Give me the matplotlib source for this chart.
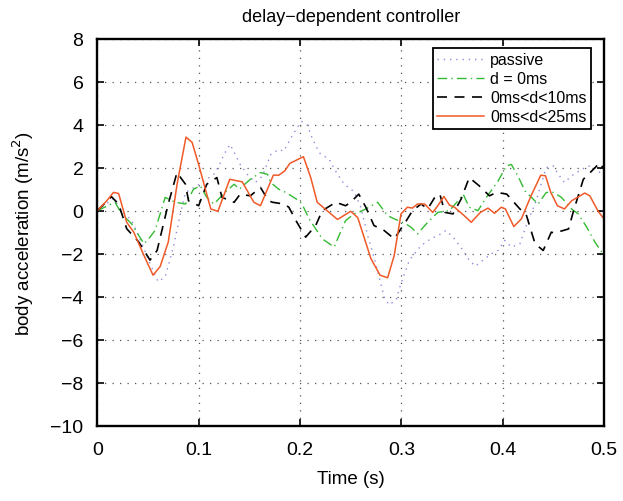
import numpy as np
import matplotlib
matplotlib.use("Agg")
import matplotlib.pyplot as plt

plt.rcParams['font.family'] = ['Liberation Sans', 'DejaVu Sans']

# passive (dotted)
t_pas = [0, 0.008, 0.016, 0.024, 0.034, 0.044, 0.052, 0.060, 0.067, 0.075, 0.082, 0.087,
         0.100, 0.115, 0.120, 0.125, 0.131, 0.136, 0.141, 0.148, 0.156, 0.163, 0.171, 0.179,
         0.184, 0.191, 0.197, 0.2017, 0.207, 0.212, 0.219, 0.229, 0.235, 0.2436, 0.2535, 0.260,
         0.2667, 0.273, 0.278, 0.283, 0.288, 0.2948, 0.2997, 0.308, 0.3195, 0.329, 0.339, 0.344,
         0.351, 0.361, 0.367, 0.373, 0.3806, 0.389, 0.3955, 0.402, 0.4086, 0.417, 0.425, 0.432,
         0.438, 0.443, 0.450, 0.455, 0.461, 0.468, 0.478, 0.4845, 0.491, 0.4977, 0.5]
a_pas = [0, 0.3, 0.55, 0.0, -0.46, -1.54, -2.46, -3.3, -3.08, -1.69, -0.15, 0.85,
         1.2, 1.69, 2.08, 2.62, 3.08, 2.62, 2.15, 1.69, 1.31, 1.62, 2.6, 2.85,
         2.77, 3.38, 3.85, 4.15, 4.0, 3.38, 2.69, 2.38, 1.85, 1.23, 0.88, 0.16,
         -1.15, -2.15, -3.08, -4.0, -4.38, -4.15, -3.38, -2.3, -1.62, -1.31, -1.08, -0.92,
         -1.23, -1.85, -2.3, -2.58, -2.3, -2.0, -1.85, -1.38, -1.69, -1.54, -0.46, 0.31,
         1.23, 2.0, 2.08, 1.69, 1.31, 1.62, 1.92, 2.08, 2.0, 1.69, 1.6]

# d = 0ms (dash-dot)
t_d0 = [0, 0.0175, 0.024, 0.034, 0.046, 0.052, 0.057, 0.067, 0.077, 0.087, 0.095, 0.1017,
        0.108, 0.115, 0.126, 0.135, 0.140, 0.151, 0.161, 0.168, 0.171, 0.179, 0.186, 0.199,
        0.202, 0.209, 0.222, 0.2337, 0.2386, 0.245, 0.2535, 0.263, 0.2766, 0.2865, 0.293,
        0.3047, 0.3096, 0.316, 0.326, 0.336, 0.3475, 0.356, 0.361, 0.367, 0.3756, 0.384,
        0.3955, 0.4037, 0.4086, 0.415, 0.422, 0.435, 0.443, 0.450, 0.458, 0.468, 0.4746,
        0.483, 0.491, 0.4977]
a_d0 = [0, 0.39, -0.15, -0.62, -1.54, -1.23, -0.92, 0.62, 0.39, 0.31, 1.0, 1.15,
        0.62, 0.31, 0.85, 1.23, 1.0, 1.46, 1.77, 1.69, 1.31, 1.0, 0.85, 0.46,
        0.31, -0.38, -1.31, -1.69, -1.15, -0.46, -0.15, 0.03, 0.39, -0.23, -0.38,
        -0.62, -0.77, -1.08, -0.54, -0.08, 0.0, 0.46, 0.77, 0.16, 0.0, 0.62,
        1.38, 2.08, 2.15, 1.62, 0.92, 0.31, 0.85, 0.85, 0.62, 0.08, -0.15,
        -0.77, -1.46, -1.92]

# 0ms<d<10ms (dashed)
t_d10 = [0, 0.014, 0.021, 0.029, 0.041, 0.052, 0.059, 0.070, 0.0786, 0.087, 0.090, 0.100,
         0.108, 0.118, 0.123, 0.135, 0.141, 0.151, 0.161, 0.169, 0.173, 0.184, 0.189, 0.196,
         0.2056, 0.2155, 0.222, 0.2353, 0.245, 0.250, 0.258, 0.265, 0.273, 0.283, 0.293,
         0.305, 0.311, 0.3195, 0.326, 0.333, 0.338, 0.343, 0.351, 0.359, 0.367, 0.377,
         0.387, 0.394, 0.404, 0.417, 0.423, 0.432, 0.440, 0.448, 0.451, 0.465, 0.470,
         0.4796, 0.488, 0.496, 0.5]
a_d10 = [0, 0.65, 0.31, -0.84, -1.46, -2.3, -1.85, 0.31, 1.77, 1.23, 0.46, 0.23,
         1.23, 1.54, 0.62, 0.39, 0.77, 0.69, 1.08, 0.46, 0.39, 0.31, 0.16, -0.46,
         -1.23, -0.69, 0.0, 0.39, 0.23, 0.39, 0.77, 0.16, -0.69, -0.92, -1.31,
         -0.46, 0.0, 0.31, 0.08, 0.62, 0.77, -0.08, -0.15, 0.54, 1.54, 1.15,
         0.69, 0.85, 0.77, 0.08, -0.15, -1.54, -1.85, -1.0, -1.04, -0.85, 0.0,
         1.46, 1.85, 2.23, 1.92]

# 0ms<d<25ms (solid)
t_d25 = [0, 0.0093, 0.016, 0.021, 0.029, 0.036, 0.046, 0.055, 0.062, 0.070, 0.079, 0.0875,
         0.0935, 0.100, 0.1066, 0.112, 0.119, 0.1307, 0.143, 0.1545, 0.161, 0.1737, 0.179,
         0.185, 0.190, 0.2034, 0.2106, 0.217, 0.237, 0.250, 0.257, 0.270, 0.279, 0.2865,
         0.293, 0.2997, 0.306, 0.311, 0.316, 0.323, 0.331, 0.336, 0.342, 0.3475, 0.3525,
         0.362, 0.369, 0.378, 0.3855, 0.392, 0.3987, 0.4027, 0.411, 0.4185, 0.428, 0.4376,
         0.4423, 0.4475, 0.454, 0.461, 0.468, 0.481, 0.486, 0.4945, 0.5]
a_d25 = [0, 0.46, 0.85, 0.80, -0.54, -1.0, -2.08, -3.0, -2.6, -1.46, 1.31, 3.42,
         3.18, 2.15, 1.0, 0.08, -0.03, 1.46, 1.34, 0.39, 0.23, 1.65, 1.65,
         1.85, 2.2, 2.51, 1.54, 0.39, -0.41, -0.03, -0.32, -2.23, -3.0, -3.12,
         -2.08, -0.15, 0.16, 0.12, 0.31, 0.31, -0.08, 0.23, 0.66, 0.26, 0.16,
         -0.23, -0.54, -0.08, 0.12, -0.12, 0.16, 0.08, -0.74, -0.38, 0.69, 1.65,
         1.62, 0.85, 0.23, 0.08, 0.46, 0.82, 0.69, -0.05, -0.38]

fig = plt.figure(figsize=(6.23, 5.02), dpi=100)
ax = fig.add_axes([0.1562, 0.150, 0.8133, 0.771])

ax.plot(t_pas, a_pas, linestyle=(0, (1, 3.5)), color='#8c8cdc', lw=1.0, label='passive')
ax.plot(t_d0, a_d0, linestyle=(0, (7, 3, 1, 3)), color='#33bb33', lw=1.0, label='d = 0ms')
ax.plot(t_d10, a_d10, '--', color='black', lw=1.2, dashes=(6, 4.5), label='0ms<d<10ms')
ax.plot(t_d25, a_d25, '-', color='#f05a28', lw=1.1, label='0ms<d<25ms')

ax.set_xlim(0, 0.5)
ax.set_ylim(-10, 8)
ax.set_xticks([0, 0.1, 0.2, 0.3, 0.4, 0.5])
ax.set_xticklabels(['0', '0.1', '0.2', '0.3', '0.4', '0.5'])
ax.set_yticks(np.arange(-10, 9, 2))
ax.grid(True, linestyle=(0, (1, 5)), color='#555555', lw=0.9)
ax.tick_params(direction='in', top=True, right=True, labelsize=14, length=5, width=1.2)
ax.tick_params(axis='x', pad=11)
ax.tick_params(axis='y', pad=10)
for s in ax.spines.values():
    s.set_linewidth(1.7)

ax.set_xlabel('Time (s)', fontsize=13.5, labelpad=9)
ax.set_ylabel('body acceleration (m/s$^2$)', fontsize=13.5, labelpad=10)
ax.set_title('delay\u2212dependent controller', fontsize=13, pad=13)

leg = ax.legend(loc='upper right', fontsize=11.5, fancybox=False, framealpha=1,
                edgecolor='black', borderpad=0.3, labelspacing=0.25, handlelength=2.9,
                handletextpad=0.4, borderaxespad=0, bbox_to_anchor=(0.975, 0.977))
leg.get_frame().set_linewidth(1.3)

fig.savefig('out.png', dpi=100)
